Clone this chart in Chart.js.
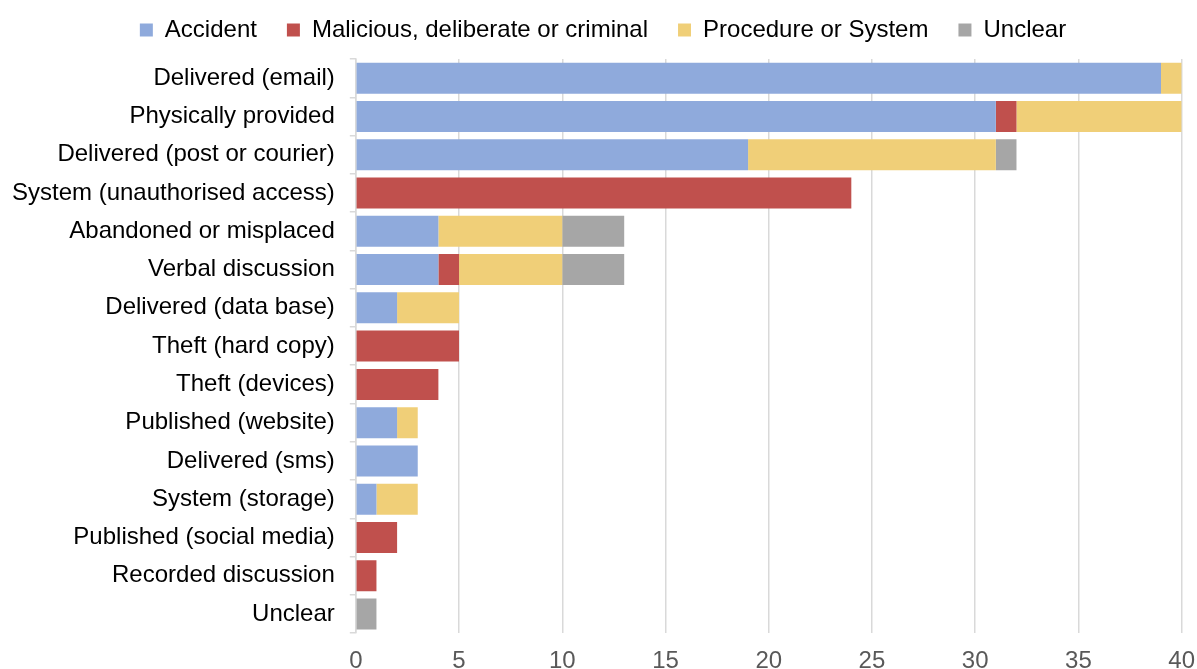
<!DOCTYPE html>
<html>
<head>
<meta charset="utf-8">
<script src="https://cdn.jsdelivr.net/npm/chart.js@4.4.0/dist/chart.umd.min.js"></script>
<style>
  html, body { margin: 0; padding: 0; background: #fff; overflow: hidden; }
  #wrap { position: relative; width: 1209px; height: 669px; }
</style>
</head>
<body>
<div id="wrap"><canvas id="chart"></canvas></div>
<script>
// Categories (top to bottom)
const categories = [
    'Delivered (email)',
    'Physically provided',
    'Delivered (post or courier)',
    'System (unauthorised access)',
    'Abandoned or misplaced',
    'Verbal discussion',
    'Delivered (data base)',
    'Theft (hard copy)',
    'Theft (devices)',
    'Published (website)',
    'Delivered (sms)',
    'System (storage)',
    'Published (social media)',
    'Recorded discussion',
    'Unclear'
];

// Series values
const accident  = [39, 31, 19, 0, 4, 4, 2, 0, 0, 2, 3, 1, 0, 0, 0];
const malicious = [0, 1, 0, 24, 0, 1, 0, 5, 4, 0, 0, 0, 2, 1, 0];
const procedure = [1, 8, 12, 0, 6, 5, 3, 0, 0, 1, 0, 2, 0, 0, 0];
const unclear   = [0, 0, 1, 0, 3, 3, 0, 0, 0, 0, 0, 0, 0, 0, 1];

const seriesNames = ['Accident', 'Malicious, deliberate or criminal', 'Procedure or System', 'Unclear'];

const FONT = "'Liberation Sans', Arial, sans-serif";

// Legend height tweak so the plot starts where the reference starts
const legendHeight = {
    id: 'legendHeight',
    beforeInit(chart) {
        const fit = chart.legend.fit;
        chart.legend.fit = function () {
            fit.bind(chart.legend)();
            this.height = 71;
        };
    }
};

new Chart(document.getElementById('chart'), {
    type: 'bar',
    data: {
        labels: categories,
        datasets: [
            { label: seriesNames[0], data: accident,  backgroundColor: '#8FAADC' },
            { label: seriesNames[1], data: malicious, backgroundColor: '#C0504D' },
            { label: seriesNames[2], data: procedure, backgroundColor: '#F0CF78' },
            { label: seriesNames[3], data: unclear,   backgroundColor: '#A6A6A6' }
        ]
    },
    options: {
        indexAxis: 'y',
        responsive: true,
        maintainAspectRatio: false,
        animation: false,
        datasets: {
            bar: { categoryPercentage: 0.81, barPercentage: 1 }
        },
        layout: {
            padding: { top: -12, left: -3, right: 0, bottom: -21 }
        },
        plugins: {
            legend: {
                position: 'top',
                labels: {
                    boxWidth: 13,
                    boxHeight: 13,
                    padding: 30,
                    color: '#000',
                    font: { family: FONT, size: 24 }
                }
            },
            tooltip: { enabled: false }
        },
        scales: {
            x: {
                stacked: true,
                min: 0,
                max: 40,
                grid: { color: '#d9d9d9', lineWidth: 1.5, drawTicks: false },
                border: { display: false },
                ticks: {
                    stepSize: 5,
                    padding: 14,
                    color: '#595959',
                    font: { family: FONT, size: 24 }
                }
            },
            y: {
                stacked: true,
                grid: { drawOnChartArea: false, color: '#d9d9d9', lineWidth: 1.5, tickLength: 6 },
                border: { color: '#d9d9d9', width: 1.5 },
                ticks: {
                    padding: 15,
                    color: '#000',
                    font: { family: FONT, size: 24 }
                }
            }
        }
    },
    plugins: [legendHeight]
});
</script>
</body>
</html>
